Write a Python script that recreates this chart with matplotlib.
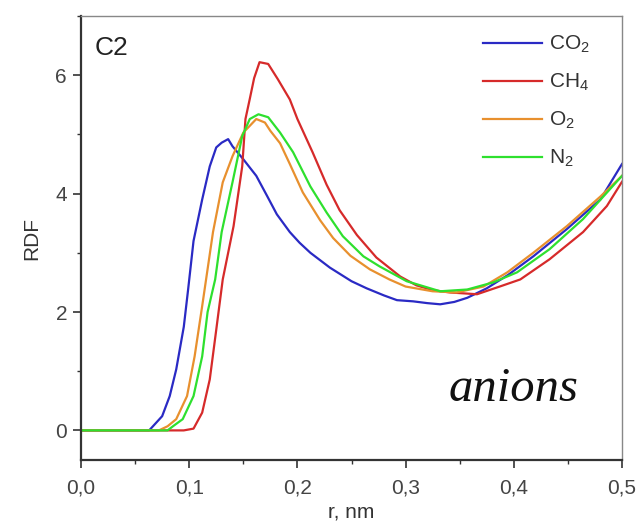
import matplotlib
matplotlib.use('Agg')
import matplotlib.pyplot as plt
from matplotlib.ticker import MultipleLocator, FuncFormatter

plt.rcParams['font.family'] = ['Liberation Sans', 'DejaVu Sans']
plt.rcParams['mathtext.default'] = 'regular'

# RDF curves (r in nm)
r_co2 = [0.0, 0.063, 0.075, 0.082, 0.088, 0.095, 0.099, 0.104, 0.112, 0.119, 0.125, 0.130, 0.136,
         0.140, 0.150, 0.162, 0.172, 0.181, 0.193, 0.202, 0.212, 0.230, 0.250, 0.264, 0.280, 0.292,
         0.307, 0.320, 0.332, 0.345, 0.357, 0.375, 0.395, 0.418, 0.449, 0.480, 0.500]
g_co2 = [0.0, 0.0, 0.24, 0.58, 1.03, 1.75, 2.38, 3.2, 3.9, 4.46, 4.78, 4.86, 4.92,
         4.8, 4.58, 4.3, 3.96, 3.65, 3.35, 3.17, 3.0, 2.75, 2.52, 2.4, 2.28, 2.2,
         2.18, 2.15, 2.13, 2.17, 2.24, 2.4, 2.63, 2.94, 3.4, 3.9, 4.5]

r_ch4 = [0.0, 0.095, 0.104, 0.112, 0.119, 0.125, 0.131, 0.141, 0.149, 0.152, 0.156, 0.160, 0.165,
         0.173, 0.182, 0.193, 0.200, 0.214, 0.227, 0.239, 0.255, 0.273, 0.295, 0.310, 0.325,
         0.341, 0.366, 0.387, 0.406, 0.433, 0.464, 0.486, 0.500]
g_ch4 = [0.0, 0.0, 0.03, 0.3, 0.86, 1.7, 2.55, 3.45, 4.46, 5.26, 5.6, 5.95, 6.22,
         6.19, 5.93, 5.59, 5.26, 4.7, 4.15, 3.72, 3.3, 2.92, 2.6, 2.45, 2.37,
         2.33, 2.3, 2.43, 2.55, 2.89, 3.35, 3.79, 4.2]

r_o2 = [0.0, 0.072, 0.080, 0.088, 0.098, 0.105, 0.112, 0.122, 0.131, 0.140, 0.150, 0.162, 0.170,
        0.175, 0.184, 0.193, 0.205, 0.221, 0.233, 0.249, 0.267, 0.285, 0.300, 0.325, 0.347,
        0.372, 0.394, 0.418, 0.449, 0.480, 0.500]
g_o2 = [0.0, 0.0, 0.07, 0.19, 0.58, 1.25, 2.1, 3.35, 4.19, 4.63, 5.03, 5.26, 5.2,
        5.06, 4.85, 4.5, 4.02, 3.55, 3.25, 2.95, 2.72, 2.55, 2.43, 2.35, 2.33,
        2.43, 2.67, 3.0, 3.45, 3.95, 4.3]

r_n2 = [0.0, 0.080, 0.085, 0.094, 0.104, 0.112, 0.117, 0.124, 0.130, 0.140, 0.149, 0.156, 0.164,
        0.173, 0.184, 0.196, 0.212, 0.227, 0.242, 0.261, 0.276, 0.301, 0.332, 0.357, 0.381,
        0.403, 0.433, 0.464, 0.500]
g_n2 = [0.0, 0.0, 0.07, 0.19, 0.58, 1.25, 2.0, 2.55, 3.35, 4.19, 4.97, 5.26, 5.34,
        5.29, 5.03, 4.7, 4.12, 3.68, 3.28, 2.94, 2.77, 2.52, 2.35, 2.38, 2.5,
        2.67, 3.06, 3.57, 4.3]

labels = ['CO$_2$', 'CH$_4$', 'O$_2$', 'N$_2$']
colors = ['#2a2ac4', '#d62a2a', '#e8902e', '#2ee02e']

fig = plt.figure(figsize=(6.41, 5.31), dpi=100)
ax = fig.add_axes([81/641, 71/531, 541/641, 444/531])

ax.plot(r_co2, g_co2, color=colors[0], lw=1.6, label=labels[0])
ax.plot(r_ch4, g_ch4, color=colors[1], lw=1.6, label=labels[1])
ax.plot(r_o2, g_o2, color=colors[2], lw=1.6, label=labels[2])
ax.plot(r_n2, g_n2, color=colors[3], lw=1.6, label=labels[3])

ax.set_xlim(0, 0.5)
ax.set_ylim(-0.5, 7.0)
ax.xaxis.set_major_locator(MultipleLocator(0.1))
ax.xaxis.set_minor_locator(MultipleLocator(0.05))
ax.yaxis.set_major_locator(MultipleLocator(2))
ax.yaxis.set_minor_locator(MultipleLocator(1))
ax.xaxis.set_major_formatter(FuncFormatter(lambda v, p: ('%.1f' % v).replace('.', ',')))

for s in ['left', 'bottom']:
    ax.spines[s].set_color('#333333')
    ax.spines[s].set_linewidth(1.6)
for s in ['top', 'right']:
    ax.spines[s].set_color('#888888')
    ax.spines[s].set_linewidth(1.0)

ax.tick_params(axis='both', which='major', direction='out', length=6, width=1.2,
               colors='#333333', labelsize=15, labelcolor='#444444')
ax.tick_params(axis='both', which='minor', direction='out', length=3, width=1.0, colors='#333333')
ax.tick_params(axis='x', which='major', pad=7)
ax.tick_params(axis='y', which='major', pad=4)

ax.set_xlabel('r, nm', fontsize=15, color='#333333', labelpad=4)
ax.set_ylabel('RDF', fontsize=15, color='#333333', labelpad=10)

ax.text(0.025, 0.955, 'C2', transform=ax.transAxes, fontsize=19, color='#222222',
        ha='left', va='top')
ax.text(0.919, 0.133, 'anions', transform=ax.transAxes, fontsize=35, color='#111111',
        family='Liberation Serif', style='italic', ha='right', va='baseline')

ax.legend(loc='upper left', bbox_to_anchor=(483/641, 1 - 34/531), bbox_transform=fig.transFigure,
          frameon=False, fontsize=15, handlelength=2.85, handletextpad=0.3,
          labelspacing=0.8, borderpad=0, borderaxespad=0, labelcolor='#333333')

fig.savefig('out.png', dpi=100)
